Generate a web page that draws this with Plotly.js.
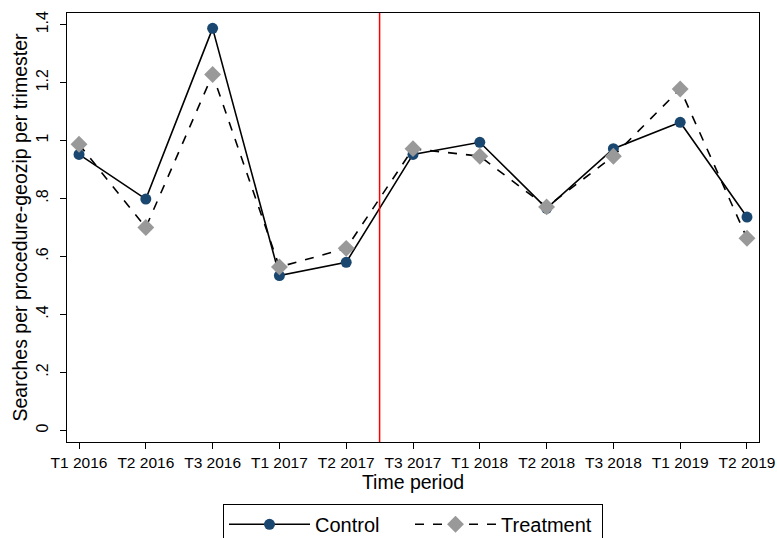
<!DOCTYPE html>
<html>
<head>
<meta charset="utf-8">
<script src="https://cdn.plot.ly/plotly-3.0.1.min.js"></script>
<style>html,body{margin:0;padding:0;background:#fff;}#chart{width:777px;height:538px;}</style>
</head>
<body>
<div id="chart"></div>
<script>
const periods = ["T1 2016","T2 2016","T3 2016","T1 2017","T2 2017","T3 2017","T1 2018","T2 2018","T3 2018","T1 2019","T2 2019"];
const control = [0.952,0.798,1.387,0.534,0.580,0.952,0.994,0.766,0.972,1.063,0.736];
const treatment = [0.987,0.700,1.228,0.564,0.628,0.972,0.946,0.771,0.946,1.178,0.663];
const yTickVals = [0,0.2,0.4,0.6,0.8,1,1.2,1.4];
const yTickText = ["0",".2",".4",".6",".8","1","1.2","1.4"];
const treatmentStart = 4.5;

const idx = periods.map((_, i) => i);
const FONT = "Arial, 'Liberation Sans', sans-serif";

const traces = [
  {x: idx, y: control, name: "Control", type: "scatter", mode: "lines+markers",
   legendwidth: 90,
   line: {color: "#000000", width: 1.6},
   marker: {symbol: "circle", size: 11, color: "#1a476f"}},
  {x: idx, y: treatment, name: "Treatment", type: "scatter", mode: "lines+markers",
   legendwidth: 96,
   line: {color: "#000000", width: 1.6, dash: "dash"},
   marker: {symbol: "diamond", size: 13, color: "#999999"}}
];

const layout = {
  width: 777, height: 538,
  paper_bgcolor: "#ffffff", plot_bgcolor: "#ffffff",
  font: {family: FONT, color: "#000000", size: 15.5},
  margin: {l: 67, r: 18, t: 12.5, b: 96, autoexpand: false},
  showlegend: true,
  legend: {orientation: "h", x: 0.5, xanchor: "center", y: -0.144, yanchor: "top",
           bordercolor: "#000000", borderwidth: 1, font: {size: 20, family: FONT},
           itemwidth: 81, bgcolor: "#ffffff"},
  xaxis: {range: [-0.18, 10.18], tickmode: "array", tickvals: idx, ticktext: periods,
          showgrid: false, zeroline: false, showline: true, mirror: true,
          linecolor: "#000000", linewidth: 1.2, ticks: "outside", ticklen: 6,
          tickcolor: "#000000", tickfont: {size: 15.5},
          title: {text: "Time period", font: {size: 19.5}, standoff: 4}},
  yaxis: {range: [-0.04, 1.44], tickmode: "array", tickvals: yTickVals, ticktext: yTickText,
          tickangle: -90, showgrid: false, zeroline: false, showline: true, mirror: true,
          linecolor: "#000000", linewidth: 1.2, ticks: "outside", ticklen: 6,
          tickcolor: "#000000", tickfont: {size: 16}, ticklabelstandoff: 5,
          title: {text: "Searches per procedure-geozip per trimester", font: {size: 19.5}, standoff: 1}},
  shapes: [{type: "line", xref: "x", yref: "paper", x0: treatmentStart, x1: treatmentStart, y0: 0, y1: 1,
            line: {color: "#ff0000", width: 1.5}, layer: "above"}]
};

Plotly.newPlot("chart", traces, layout, {staticPlot: true, displayModeBar: false});
</script>
</body>
</html>
